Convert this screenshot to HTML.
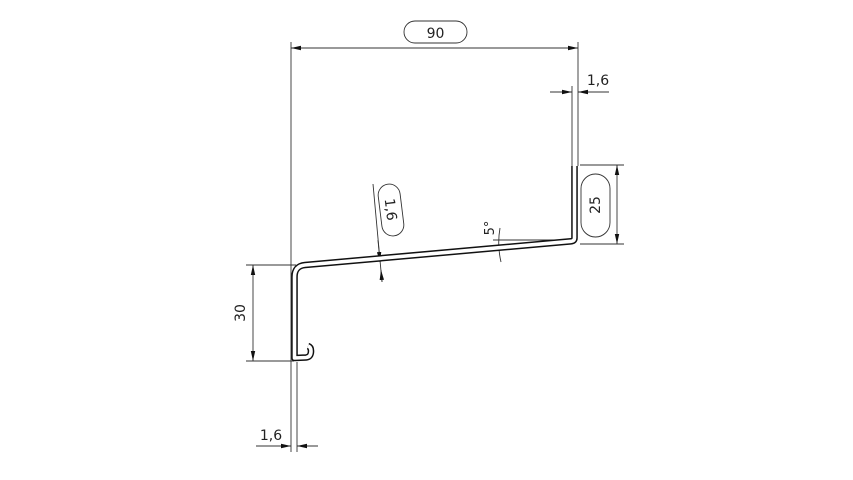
<!DOCTYPE html>
<html><head><meta charset="utf-8"><style>
html,body{margin:0;padding:0;background:#fff;}
svg{display:block;}
text{font-family:"DejaVu Sans","Liberation Sans",sans-serif;fill:#222;}
</style></head><body>
<svg width="853" height="480" viewBox="0 0 853 480" xmlns="http://www.w3.org/2000/svg">
<defs>
<marker id="a" viewBox="0 0 10 6" refX="10" refY="3" markerWidth="10" markerHeight="6" orient="auto-start-reverse" markerUnits="userSpaceOnUse">
<path d="M0,0.8 L10,3 L0,5.2 Z" fill="#111"/></marker>
</defs>
<g stroke="#333" stroke-width="0.9" fill="none">
<!-- extension lines -->
<line x1="291" y1="42" x2="291" y2="452"/>
<line x1="297" y1="362" x2="297" y2="452"/>
<line x1="578" y1="42" x2="578" y2="166"/>
<line x1="572" y1="86" x2="572" y2="166"/>
<!-- 90 -->
<line x1="291" y1="48" x2="578" y2="48" marker-start="url(#a)" marker-end="url(#a)"/>
<!-- top 1,6 -->
<line x1="550" y1="92" x2="572" y2="92" marker-end="url(#a)"/>
<line x1="609" y1="92" x2="578" y2="92" marker-end="url(#a)"/>
<!-- bottom 1,6 -->
<line x1="256" y1="446" x2="291" y2="446"/>
<line x1="272" y1="446" x2="291" y2="446" marker-end="url(#a)"/>
<line x1="318" y1="446" x2="297" y2="446" marker-end="url(#a)"/>
<!-- 25 -->
<line x1="580" y1="165" x2="624" y2="165"/>
<line x1="580" y1="244" x2="624" y2="244"/>
<line x1="617" y1="165" x2="617" y2="244" marker-start="url(#a)" marker-end="url(#a)"/>
<!-- 30 -->
<line x1="246" y1="265" x2="296" y2="265"/>
<line x1="246" y1="361" x2="294" y2="361"/>
<line x1="253" y1="265" x2="253" y2="361" marker-start="url(#a)" marker-end="url(#a)"/>
<!-- slope 1,6 -->
<line x1="373" y1="184" x2="382" y2="282"/>
<line x1="378" y1="240" x2="380" y2="262" marker-end="url(#a)"/>
<line x1="382" y1="282" x2="381" y2="270" marker-end="url(#a)"/>
<!-- 5 deg -->
<line x1="493" y1="240" x2="574" y2="240"/>
<path d="M500,228 Q497,245 501,262"/>
</g>
<!-- profile -->
<path d="M574.5,166 L574.5,238 Q574.5,241 571,241.3 L305,265 Q294.5,266 294.5,277 L294.5,358 L306,357.5 Q311,357 311,351 Q311,347 308,346"
 fill="none" stroke="#111" stroke-width="6.6" stroke-linejoin="round"/>
<path d="M574.5,166 L574.5,238 Q574.5,241 571,241.3 L305,265 Q294.5,266 294.5,277 L294.5,358 L306,357.5 Q311,357 311,351 Q311,347 308,346"
 fill="none" stroke="#fff" stroke-width="3.6" stroke-linejoin="round"/>
<g stroke="#333" stroke-width="0.9" fill="none">
<rect x="404" y="21" width="63" height="22" rx="11"/>
<rect x="581" y="174" width="29" height="63" rx="14.5"/>
<rect x="380" y="184" width="22" height="52" rx="11" transform="rotate(-7 391 210)"/>
</g>
<g font-size="14">
<text x="435.5" y="38" text-anchor="middle">90</text>
<text x="598" y="85" text-anchor="middle">1,6</text>
<text x="271" y="440" text-anchor="middle">1,6</text>
<text transform="translate(600,205) rotate(-90)" text-anchor="middle">25</text>
<text transform="translate(245,313) rotate(-90)" text-anchor="middle">30</text>
<text transform="translate(386,210) rotate(83)" text-anchor="middle">1,6</text>
<text transform="translate(494,228) rotate(-90)" text-anchor="middle" font-size="13">5°</text>
</g>
</svg>
</body></html>
